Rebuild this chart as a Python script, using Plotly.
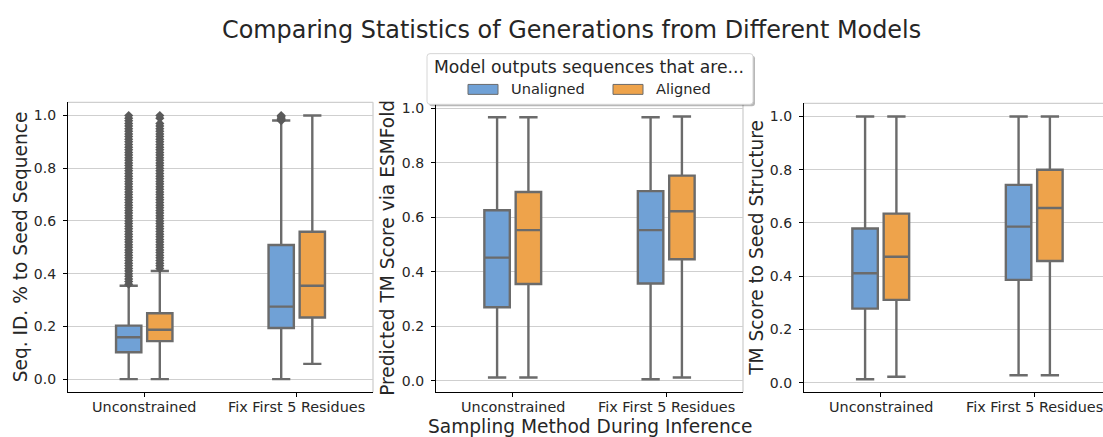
import plotly.graph_objects as go

# ---- data -------------------------------------------------------------
categories = ["Unconstrained", "Fix First 5 Residues"]
groups = ["Unaligned", "Aligned"]

# five-number summaries per category: [lower whisker, q1, median, q3, upper whisker]
seq_id_unaligned = [[0.000, 0.102, 0.159, 0.203, 0.354], [0.000, 0.194, 0.275, 0.509, 0.981]]
seq_id_aligned = [[0.000, 0.144, 0.187, 0.250, 0.410], [0.058, 0.234, 0.354, 0.559, 1.000]]

pred_tm_unaligned = [[0.012, 0.270, 0.452, 0.626, 0.967], [0.006, 0.357, 0.553, 0.696, 0.967]]
pred_tm_aligned = [[0.012, 0.355, 0.553, 0.693, 0.967], [0.012, 0.446, 0.622, 0.753, 0.970]]

seed_tm_unaligned = [[0.013, 0.278, 0.411, 0.579, 1.000], [0.028, 0.386, 0.586, 0.743, 1.000]]
seed_tm_aligned = [[0.022, 0.311, 0.473, 0.635, 1.000], [0.028, 0.457, 0.656, 0.800, 1.000]]

# flier values for the sequence-identity panel
seq_id_fliers_unc_unaligned = [
    0.36, 0.37, 0.38, 0.39, 0.40, 0.41, 0.42, 0.43, 0.44, 0.45, 0.46, 0.47, 0.48,
    0.49, 0.50, 0.51, 0.52, 0.53, 0.54, 0.55, 0.56, 0.57, 0.58, 0.59, 0.60, 0.61,
    0.62, 0.63, 0.64, 0.65, 0.66, 0.67, 0.68, 0.69, 0.70, 0.71, 0.72, 0.73, 0.74,
    0.75, 0.76, 0.77, 0.78, 0.79, 0.80, 0.81, 0.82, 0.83, 0.84, 0.85, 0.86, 0.87,
    0.88, 0.89, 0.90, 0.91, 0.92, 0.93, 0.94, 0.95, 0.96, 0.97, 0.98, 0.99, 1.00]
seq_id_fliers_unc_aligned = [
    0.42, 0.43, 0.44, 0.45, 0.46, 0.47, 0.48, 0.49, 0.50, 0.51, 0.52, 0.53, 0.54,
    0.55, 0.56, 0.57, 0.58, 0.59, 0.60, 0.61, 0.62, 0.63, 0.64, 0.65, 0.66, 0.67,
    0.68, 0.69, 0.70, 0.71, 0.72, 0.73, 0.74, 0.75, 0.76, 0.77, 0.78, 0.79, 0.80,
    0.81, 0.82, 0.83, 0.84, 0.85, 0.86, 0.87, 0.88, 0.89, 0.90, 0.91, 0.92, 0.93,
    0.94, 0.95, 0.96, 0.97, 0.99, 1.00]
seq_id_fliers_fix_unaligned = [0.98, 0.985, 0.99, 0.995, 1.00]
seq_id_fliers_fix_aligned = []

y_labels = ["Seq. ID. % to Seed Sequence", "Predicted TM Score via ESMFold", "TM Score to Seed Structure"]
x_title = "Sampling Method During Inference"
title = "Comparing Statistics of Generations from Different Models"
legend_title = "Model outputs sequences that are..."
y_ticks = [0.0, 0.2, 0.4, 0.6, 0.8, 1.0]

# ---- styling ----------------------------------------------------------
W, H = 1103, 437
FONT = "DejaVu Sans"
BLUE = "#70a1d6"
ORANGE = "#eea34b"
EDGE = "#6b6b6b"
FLIER = "#5a5a5a"
GRID = "#cfcfcf"
TEXT = "#262626"

HUE_OFFSET = 0.102
BOX_W = 0.166


def px(x):
    return x / W


def py(y):
    return 1 - y / H


panels = [
    dict(data=(seq_id_unaligned, seq_id_aligned),
         fliers=((seq_id_fliers_unc_unaligned, seq_id_fliers_fix_unaligned),
                 (seq_id_fliers_unc_aligned, seq_id_fliers_fix_aligned)),
         xdom=(68, 373), ytop=100, xrange=[-0.5, 1.5], right_spine=True, ylab_x=20),
    dict(data=(pred_tm_unaligned, pred_tm_aligned), fliers=None,
         xdom=(436, 743), ytop=101, xrange=[-0.5, 1.5], right_spine=True, ylab_x=388),
    dict(data=(seed_tm_unaligned, seed_tm_aligned), fliers=None,
         xdom=(804, 1103), ytop=101, xrange=[-0.5, 1.448], right_spine=False, ylab_x=757),
]
Y_BOTTOM = 392

fig = go.Figure()
layout_axes = {}
shapes = []
annotations = []

for i, p in enumerate(panels):
    n = "" if i == 0 else str(i + 1)
    xa, ya = "x" + n, "y" + n
    colors = (BLUE, ORANGE)

    all_vals = []
    for g, stats in enumerate(p["data"]):
        for c, s in enumerate(stats):
            xpos = c + (-HUE_OFFSET if g == 0 else HUE_OFFSET)
            all_vals.extend([s[0], s[4]])
            fig.add_trace(go.Box(
                x=[xpos], lowerfence=[s[0]], q1=[s[1]], median=[s[2]], q3=[s[3]],
                upperfence=[s[4]], width=BOX_W, whiskerwidth=0.72,
                fillcolor=colors[g], line=dict(color=EDGE, width=2.4),
                boxpoints=False, name=groups[g], showlegend=False,
                hoverinfo="skip", xaxis=xa, yaxis=ya))
            if p["fliers"] is not None:
                fl = p["fliers"][g][c]
                if fl:
                    all_vals.extend(fl)
                    fig.add_trace(go.Scatter(
                        x=[xpos] * len(fl), y=fl, mode="markers",
                        marker=dict(symbol="diamond", size=7, color=FLIER,
                                    line=dict(width=0)),
                        showlegend=False, hoverinfo="skip",
                        cliponaxis=False, xaxis=xa, yaxis=ya))

    # 5% padding around the data, as in an autoscaled axis
    lo, hi = min(all_vals), max(all_vals)
    span = hi - lo
    yr = [lo - 0.05 * span, hi + 0.05 * span]

    layout_axes["xaxis" + n] = dict(
        domain=[px(p["xdom"][0]), px(p["xdom"][1])], range=p["xrange"],
        anchor=ya, tickmode="array", tickvals=[0, 1], showticklabels=False,
        ticks="outside", ticklen=4, tickwidth=1, tickcolor="black",
        showline=True, linecolor="black", linewidth=1.3, mirror=False,
        showgrid=False, zeroline=False, fixedrange=True)
    layout_axes["yaxis" + n] = dict(
        domain=[py(Y_BOTTOM), py(p["ytop"])], range=yr, anchor=xa,
        tickmode="array", tickvals=y_ticks, ticktext=["%.1f" % v for v in y_ticks],
        ticks="outside", ticklen=4, tickwidth=1, tickcolor="black",
        showline=True, linecolor="black", linewidth=1.3,
        showgrid=True, gridcolor=GRID, gridwidth=1, zeroline=False, fixedrange=True,
        tickfont=dict(family=FONT, size=14, color=TEXT), ticklabelstandoff=4)

    # category labels under each tick
    for c, cat in enumerate(categories):
        annotations.append(dict(
            text=cat, xref=xa, yref="paper", x=c, y=py(407),
            xanchor="center", yanchor="middle", showarrow=False,
            font=dict(family=FONT, size=14.4, color=TEXT)))

    # light top / right spines
    shapes.append(dict(type="line", xref=xa + " domain", yref=ya + " domain",
                       x0=0, x1=1, y0=1, y1=1, line=dict(color=GRID, width=1.3),
                       layer="below"))
    if p["right_spine"]:
        shapes.append(dict(type="line", xref=xa + " domain", yref=ya + " domain",
                           x0=1, x1=1, y0=0, y1=1, line=dict(color=GRID, width=1.3),
                           layer="below"))

    annotations.append(dict(
        text=y_labels[i], xref="paper", yref="paper", x=px(p["ylab_x"]),
        y=py((Y_BOTTOM + p["ytop"]) / 2), xanchor="center", yanchor="middle",
        textangle=-90, showarrow=False,
        font=dict(family=FONT, size=18.6, color=TEXT)))

# figure title and shared x label
annotations.append(dict(text=title, xref="paper", yref="paper", x=px(571), y=py(27),
                        xanchor="center", yanchor="middle", showarrow=False,
                        font=dict(family=FONT, size=23.9, color=TEXT)))
annotations.append(dict(text=x_title, xref="paper", yref="paper", x=px(589.5), y=py(426),
                        xanchor="center", yanchor="middle", showarrow=False,
                        font=dict(family=FONT, size=18.6, color=TEXT)))


# legend drawn as a framed box with a drop shadow
def rounded_rect(x0, y0, x1, y1, r):
    X0, X1 = px(x0), px(x1)
    Y0, Y1 = py(y0), py(y1)
    rx, ry = r / W, r / H
    return (f"M {X0 + rx},{Y0} L {X1 - rx},{Y0} Q {X1},{Y0} {X1},{Y0 - ry} "
            f"L {X1},{Y1 + ry} Q {X1},{Y1} {X1 - rx},{Y1} L {X0 + rx},{Y1} "
            f"Q {X0},{Y1} {X0},{Y1 + ry} L {X0},{Y0 - ry} Q {X0},{Y0} {X0 + rx},{Y0} Z")


LX0, LY0, LX1, LY1 = 427, 51, 753, 102
shapes.append(dict(type="path", xref="paper", yref="paper",
                   path=rounded_rect(LX0 + 2, LY0 + 2, LX1 + 2, LY1 + 2, 3),
                   fillcolor="rgba(0,0,0,0.28)", line=dict(width=0), layer="above"))
shapes.append(dict(type="path", xref="paper", yref="paper",
                   path=rounded_rect(LX0, LY0, LX1, LY1, 3),
                   fillcolor="white", line=dict(color="#d6d6d6", width=1), layer="above"))
annotations.append(dict(text=legend_title, xref="paper", yref="paper", x=px(588.5), y=py(64),
                        xanchor="center", yanchor="middle", showarrow=False,
                        font=dict(family=FONT, size=17.2, color=TEXT)))
legend_items = [(groups[0], BLUE, 468), (groups[1], ORANGE, 613)]
for label, col, x0 in legend_items:
    shapes.append(dict(type="rect", xref="paper", yref="paper",
                       x0=px(x0), x1=px(x0 + 30), y0=py(92), y1=py(82),
                       fillcolor=col, line=dict(color=EDGE, width=1), layer="above"))
    annotations.append(dict(text=label, xref="paper", yref="paper", x=px(x0 + 41), y=py(86),
                            xanchor="left", yanchor="middle", showarrow=False,
                            font=dict(family=FONT, size=14.6, color=TEXT)))

fig.update_layout(
    width=W, height=H, margin=dict(l=0, r=0, t=0, b=0),
    paper_bgcolor="white", plot_bgcolor="white", showlegend=False,
    boxmode="overlay", font=dict(family=FONT, color=TEXT),
    shapes=shapes, annotations=annotations, **layout_axes)

fig.write_html("out.html")
